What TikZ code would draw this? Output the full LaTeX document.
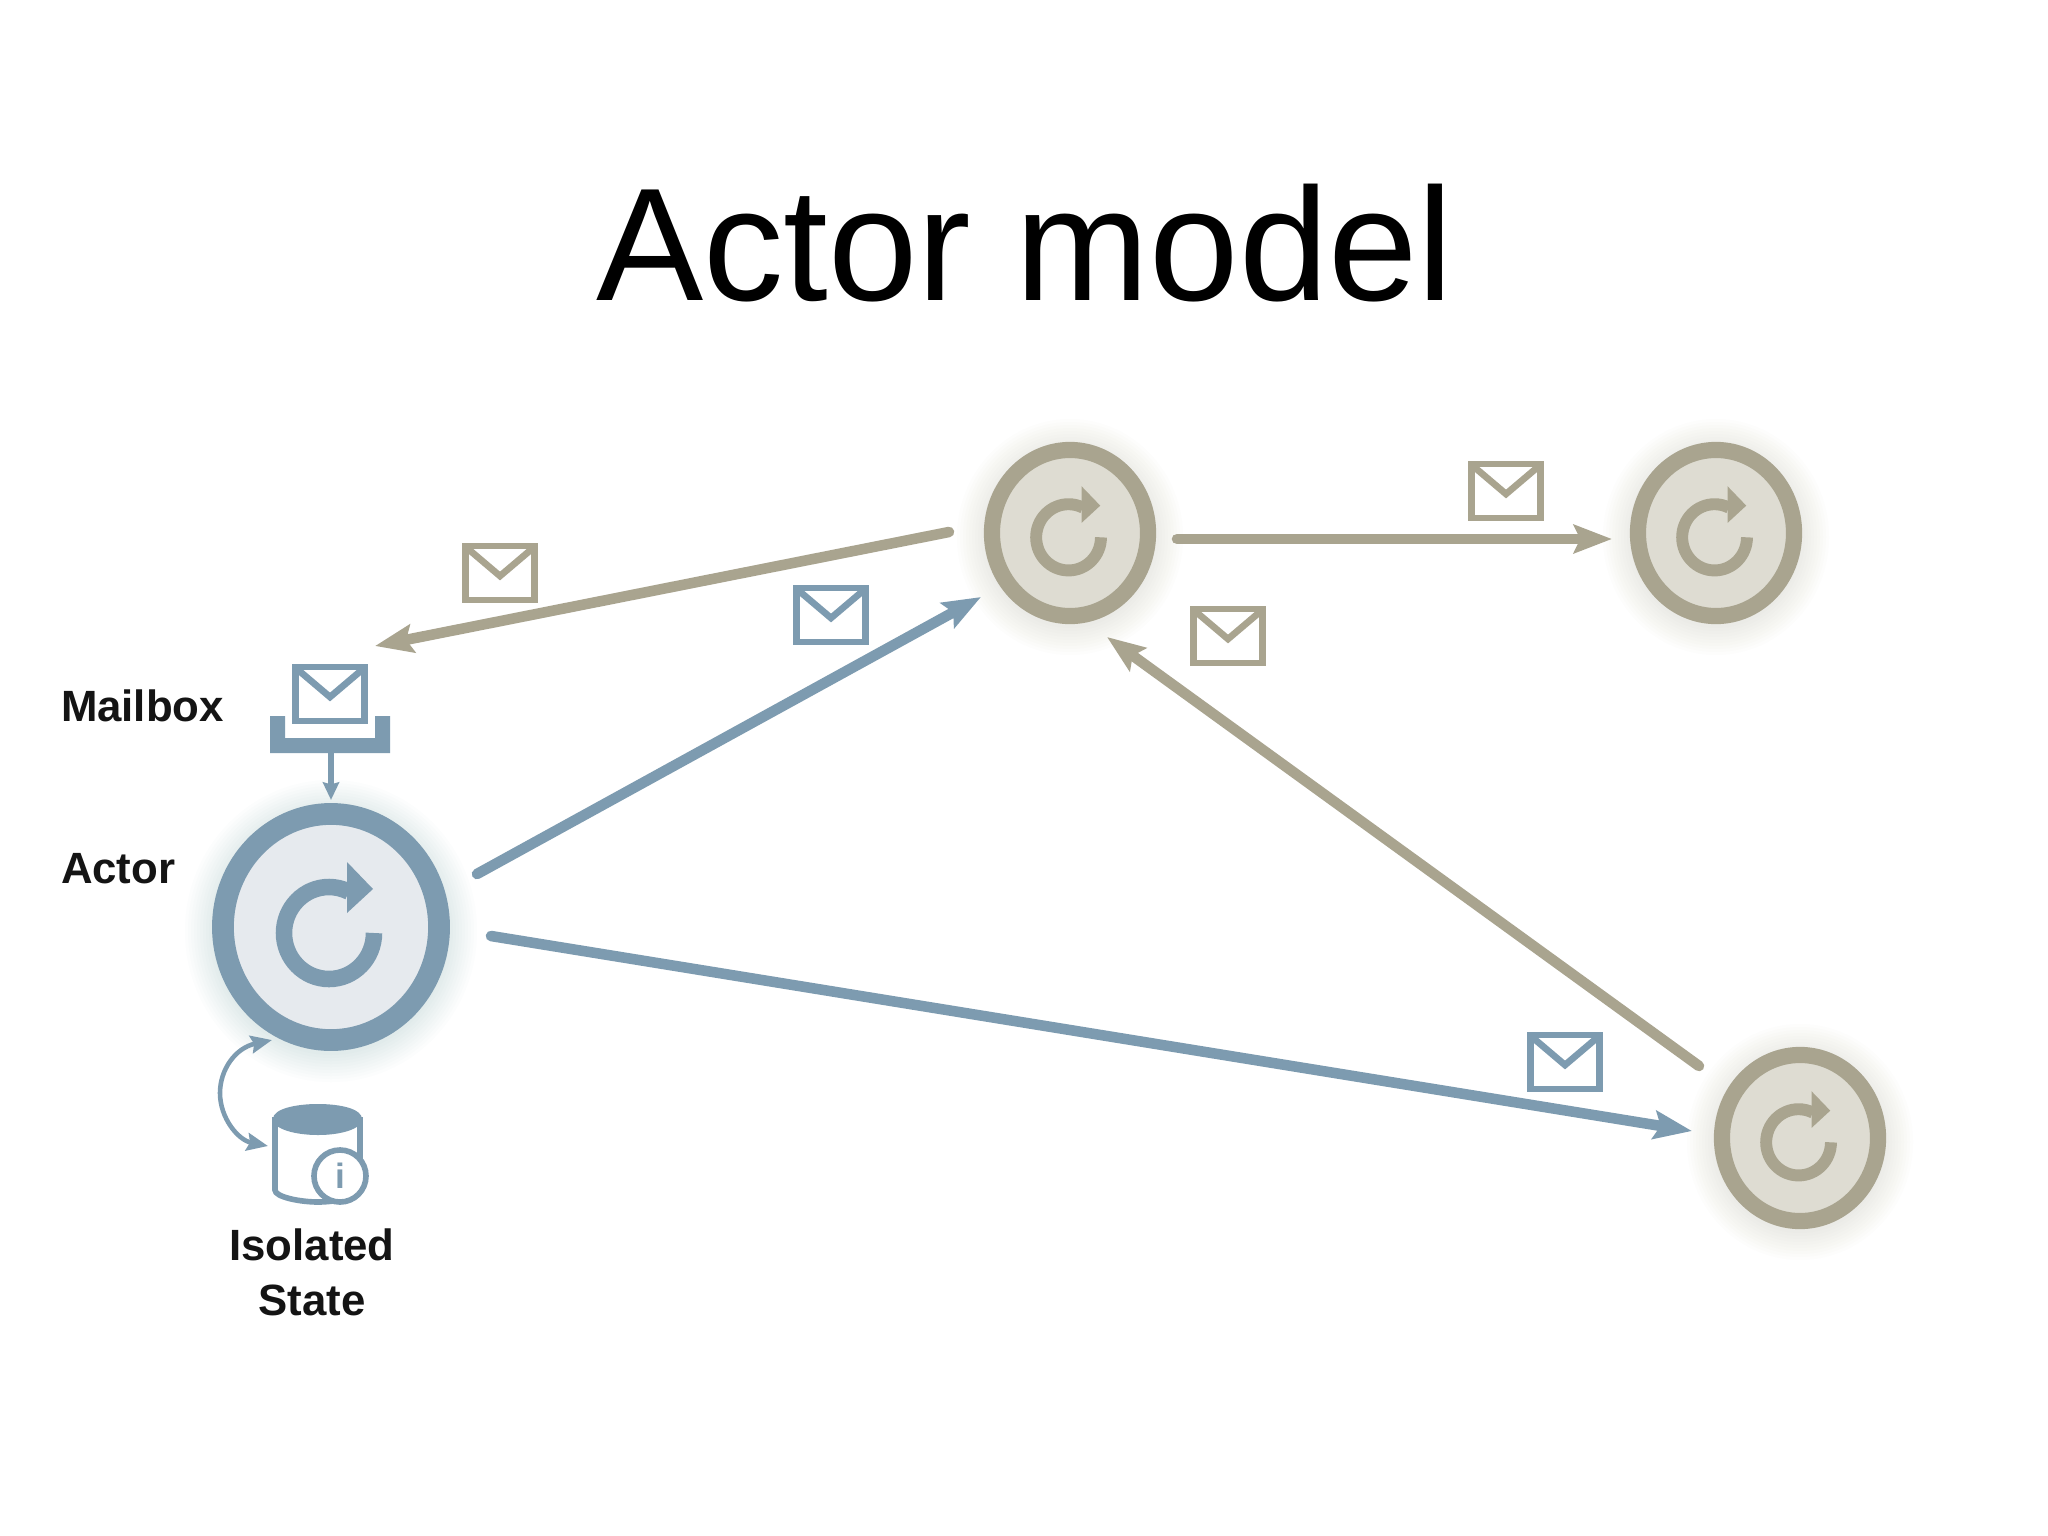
\documentclass[tikz,border=0pt]{standalone}
\usepackage{fontspec}
\setmainfont{Liberation Sans}
\usetikzlibrary{arrows.meta,shapes.geometric}
\definecolor{bluec}{HTML}{7D9BB0}
\definecolor{bluef}{HTML}{E6EAEE}
\definecolor{tanc}{HTML}{A9A48F}
\definecolor{tanf}{HTML}{DEDCD2}
\tikzset{
  x=0.01cm,y=-0.01cm,
  actornode/.style={draw=#1c,fill=#1f,ellipse,inner sep=0pt,outer sep=0pt},
  bigactor/.style={actornode=#1,line width=6.2pt,minimum width=2.16cm,minimum height=2.26cm},
  smallactor/.style={actornode=#1,line width=4.6pt,minimum width=1.56cm,minimum height=1.66cm},
  envelope/.style={draw=#1,line width=1.9pt,fill=white,rectangle,inner sep=0pt,outer sep=0pt,minimum width=0.69cm,minimum height=0.54cm},
  msgarrow/.style={draw=#1,line width=3pt,line cap=round,-{Stealth[length=10.8pt,width=8pt,inset=1.8pt]}},
  thinarrow/.style={draw=#1,line width=1.5pt,-{Stealth[length=5pt,width=4.6pt,inset=0.6pt]}},
  labeltext/.style={font=\bfseries\fontsize{12.45}{14}\selectfont,text=black!92,anchor=base,inner sep=0pt,outer sep=0pt},
}
% glow behind an actor: centre, x radius, y radius, colour
\newcommand{\ActorGlow}[4]{%
  \foreach \gk in {1,...,10}{%
    \fill[#4,opacity=0.018] (#1) ++(0,4) ellipse [x radius={#2+30-3*\gk},y radius={#3+30-3*\gk}];
  }%
}
% loop sign inside an actor: node name, scale, colour
\newcommand{\LoopIcon}[3]{%
  \begin{scope}[shift={(#1.center)},scale=#2]
    \draw[#3,line width=#2*4.7pt] (43,6) arc [start angle=0,end angle=296,x radius=45,y radius=46];
    \fill[#3] (16,-65) -- (42,-38) -- (16,-14) -- cycle;
  \end{scope}%
}
% envelope: name, x, y, colour
\newcommand{\EnvelopeIcon}[4]{%
  \node[envelope=#4] (#1) at (#2,#3) {};
  \begin{scope}[shift={(#1.center)}]
    \draw[#4,line width=1.9pt,line join=miter] (-33,-25) -- (0,3) -- (33,-25);
  \end{scope}%
}
\begin{document}
\begin{tikzpicture}
\useasboundingbox (0,0) rectangle (2048,1536);
\fill[white] (0,0) rectangle (2048,1536);

\node[anchor=base,inner sep=0pt,font=\fontsize{45.7}{50}\selectfont] (title) at (1025,300) {Actor model};

% glows
\coordinate (c1) at (331,927);
\coordinate (c2) at (1070,533);
\coordinate (c3) at (1716,533);
\coordinate (c4) at (1800,1138);
\ActorGlow{c1}{119}{124}{bluec}
\ActorGlow{c2}{86}{91}{tanc}
\ActorGlow{c3}{86}{91}{tanc}
\ActorGlow{c4}{86}{91}{tanc}

% actors
\node[bigactor=blue] (a1) at (c1) {};
\node[smallactor=tan] (a2) at (c2) {};
\node[smallactor=tan] (a3) at (c3) {};
\node[smallactor=tan] (a4) at (c4) {};
\LoopIcon{a1}{1}{bluec}
\LoopIcon{a2}{0.72}{tanc}
\LoopIcon{a3}{0.72}{tanc}
\LoopIcon{a4}{0.72}{tanc}

% envelopes
\EnvelopeIcon{e1}{500}{573}{tanc}
\EnvelopeIcon{e2}{831}{615}{bluec}
\EnvelopeIcon{e3}{1506}{491}{tanc}
\EnvelopeIcon{e4}{1228}{636}{tanc}
\EnvelopeIcon{e5}{1565}{1062}{bluec}
\EnvelopeIcon{em}{330}{694}{bluec}

% mailbox tray
\fill[bluec] (270,716) -- (285,716) -- (285,738) -- (375,738) -- (375,716) -- (390,716) -- (390,753) -- (270,753) -- cycle;
\coordinate (trayb) at (331,753);
\draw[thinarrow=bluec,shorten >=0.14cm] (trayb) -- (a1.north);

% message arrows: free ends
\coordinate (m1s) at (949,532);  \coordinate (m1t) at (375,646);
\coordinate (m2s) at (1177,539); \coordinate (m2t) at (1612,539);
\coordinate (m3s) at (477,874);  \coordinate (m3t) at (981,597);
\coordinate (m4s) at (491,936);  \coordinate (m4t) at (1692,1131);
\coordinate (m5s) at (1699,1066);\coordinate (m5t) at (1107,637);
\draw[msgarrow=tanc] (m1s) -- (m1t);
\draw[msgarrow=tanc] (m2s) -- (m2t);
\draw[msgarrow=bluec] (m3s) -- (m3t);
\draw[msgarrow=bluec] (m4s) -- (m4t);
\draw[msgarrow=tanc] (m5s) -- (m5t);

% state cylinder
\draw[bluec,line width=1.6pt,fill=white] (275,1117) -- (275,1190) .. controls (275,1197) and (300,1202) .. (318,1202) .. controls (336,1202) and (360,1197) .. (360,1190) -- (360,1117);
\fill[bluec] (273,1119) .. controls (273,1109) and (295,1104) .. (318,1104) .. controls (341,1104) and (362,1109) .. (362,1119) .. controls (362,1129) and (341,1135) .. (318,1135) .. controls (295,1135) and (273,1129) .. (273,1119) -- cycle;
\node[draw=bluec,fill=white,line width=1.6pt,circle,minimum size=0.52cm,inner sep=0pt,outer sep=0pt,text=bluec,font=\bfseries\fontsize{10}{10}\selectfont] (info) at (340,1176) {i};

% state <-> actor curved arrow
\coordinate (loopt) at (272,1040);
\coordinate (loopb) at (268,1146);
\draw[draw=bluec,line width=1.3pt,{Stealth[length=6pt,width=5pt,inset=0.8pt]}-{Stealth[length=6pt,width=5pt,inset=0.8pt]}]
  (loopt) .. controls (235,1048) and (220,1070) .. (220,1093) .. controls (220,1118) and (238,1140) .. (loopb);

% labels
\node[labeltext,anchor=base west] (lmail) at (61,721) {Mailbox};
\node[labeltext,anchor=base west] (lactor) at (61,883) {Actor};
\node[labeltext] (liso) at (312,1260) {Isolated};
\node[labeltext] (lstate) at (312,1315) {State};
\end{tikzpicture}
\end{document}
